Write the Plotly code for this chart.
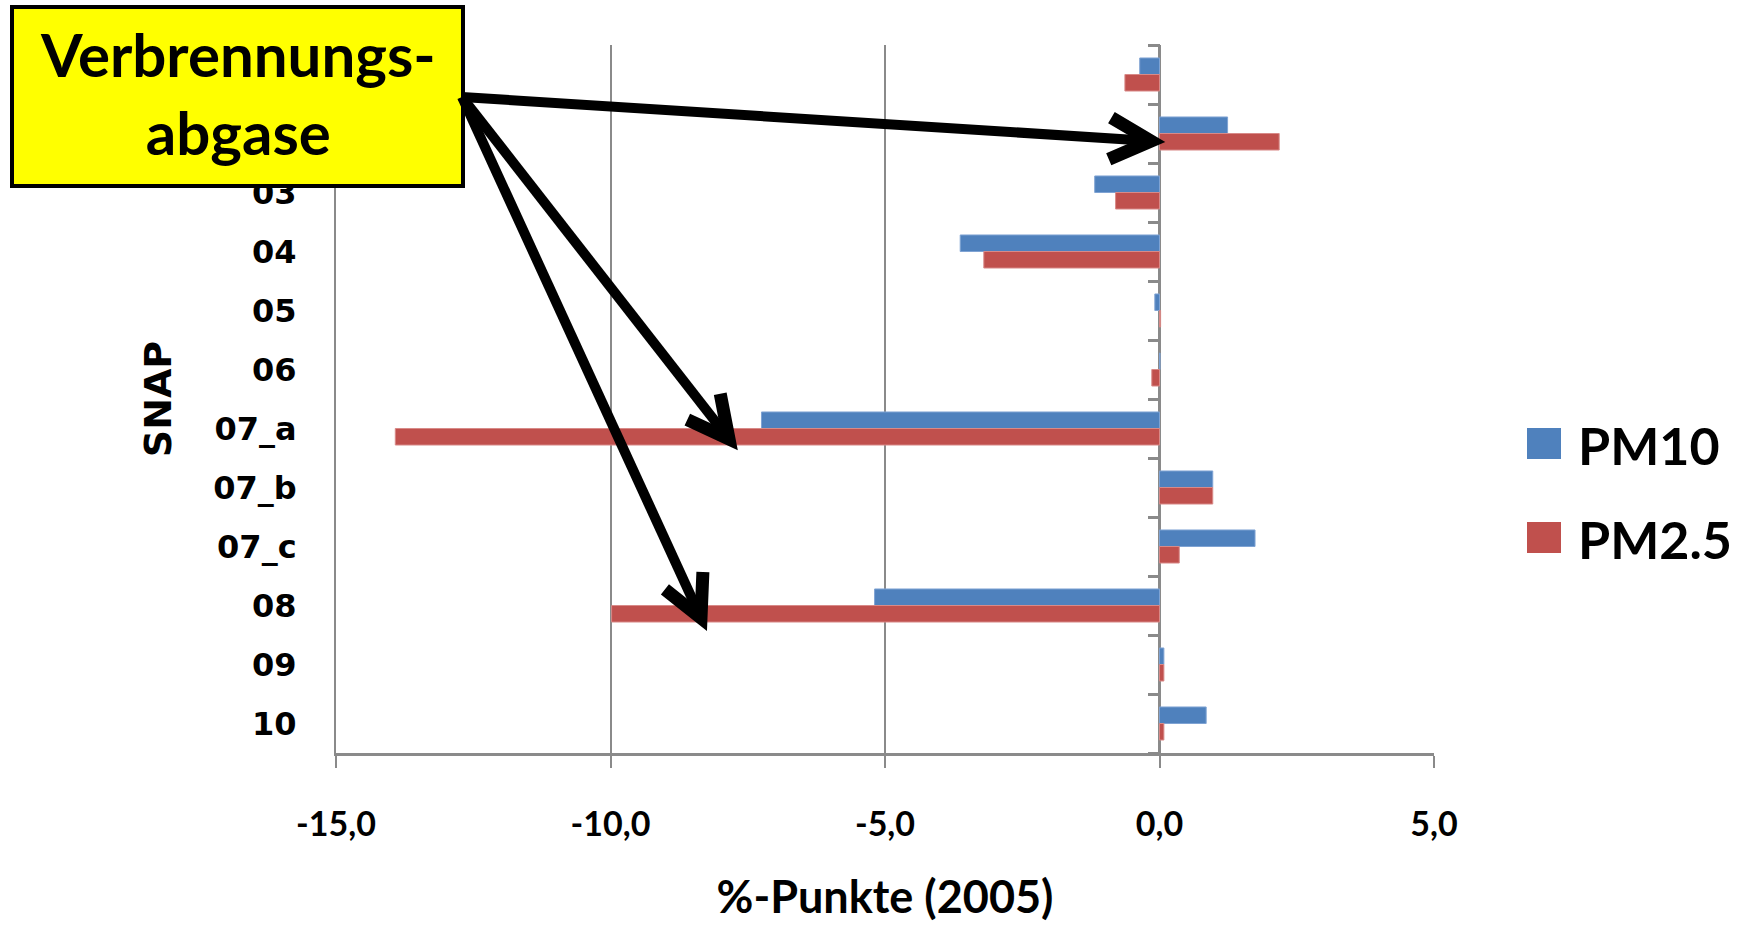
import numpy as np
import plotly.graph_objects as go

# ---------------- data ----------------
categories = ["01", "02", "03", "04", "05", "06", "07_a", "07_b", "07_c", "08", "09", "10"]
pm10 = [-0.36, 1.24, -1.18, -3.63, -0.085, 0.01, -7.25, 0.97, 1.74, -5.19, 0.08, 0.85]
pm25 = [-0.63, 2.18, -0.80, -3.20, 0.02, -0.14, -13.92, 0.97, 0.36, -9.98, 0.08, 0.08]
series_names = ["PM10", "PM2.5"]
x_tickvals = [-15, -10, -5, 0, 5]
x_ticktext = ["-15,0", "-10,0", "-5,0", "0,0", "5,0"]
x_title = "%-Punkte (2005)"
y_title = "SNAP"
box_text = "Verbrennungs-<br>abgase"

# ---------------- styling ----------------
W, H = 1748, 936
L, R, T, B = 336, 1434, 45, 753  # plot area in pixels
BLUE = "#4F81BD"
RED = "#C0504D"
GRID = "#8a8a8a"


def px(xp):
    return (xp - L) / (R - L)


def py(yp):
    return (B - yp) / (B - T)


fig = go.Figure()
fig.add_trace(go.Bar(y=categories, x=pm10, orientation="h", name=series_names[0],
                     marker=dict(color=BLUE, line=dict(color="#7fa3d3", width=1)),
                     showlegend=False))
fig.add_trace(go.Bar(y=categories, x=pm25, orientation="h", name=series_names[1],
                     marker=dict(color=RED, line=dict(color="#d88a88", width=1)),
                     showlegend=False))
# empty helper trace so the secondary (tick-mark) axis at x=0 is drawn
fig.add_trace(go.Scatter(x=[None], y=[None], yaxis="y2", mode="markers",
                         showlegend=False, hoverinfo="skip"))

n = len(categories)
boundaries = [i - 0.5 for i in range(n + 1)]

fig.update_layout(
    width=W, height=H,
    margin=dict(l=L, r=W - R, t=T, b=H - B, autoexpand=False),
    paper_bgcolor="white", plot_bgcolor="white",
    barmode="group", bargap=0.44, bargroupgap=0.0,
    xaxis=dict(
        range=[-15, 5], tickvals=x_tickvals, ticktext=x_ticktext,
        showgrid=True, gridcolor=GRID, gridwidth=2,
        zeroline=True, zerolinecolor=GRID, zerolinewidth=3,
        showline=True, linecolor=GRID, linewidth=3,
        ticks="outside", ticklen=12, tickwidth=2, tickcolor=GRID,
        ticklabelstandoff=27,
        tickfont=dict(family="Lato", size=34, color="black", weight="bold"),
        title=dict(text=x_title, standoff=40,
                   font=dict(family="Lato", size=45, color="black", weight="bold")),
        automargin=False,
    ),
    yaxis=dict(
        type="category", categoryorder="array", categoryarray=categories,
        autorange="reversed",
        showgrid=False, zeroline=False,
        showline=True, linecolor=GRID, linewidth=2,
        ticks="", ticklabelstandoff=31,
        tickfont=dict(family="DejaVu Sans", size=32, color="black", weight="bold"),
        title=dict(text=y_title, standoff=30,
                   font=dict(family="DejaVu Sans", size=38, color="black", weight="bold")),
        automargin=False,
    ),
    yaxis2=dict(
        overlaying="y", anchor="free", position=0.75, side="left",
        range=[n - 0.5, -0.5], tickvals=boundaries,
        ticks="outside", ticklen=12, tickwidth=3, tickcolor=GRID,
        showticklabels=False, showgrid=False, zeroline=False, showline=False,
    ),
)

shapes = []
# yellow label box
shapes.append(dict(type="rect", xref="paper", yref="paper",
                   x0=px(12), x1=px(463), y0=py(7), y1=py(186),
                   fillcolor="#FFFF00", line=dict(color="black", width=4), layer="above"))

# arrows from the box
origin = np.array([462.0, 97.0])
tips = [np.array([1151.0, 141.0]), np.array([729.0, 439.0]), np.array([701.0, 618.0])]
arm_len = 46.0
half_angle = np.deg2rad(27)
for tip in tips:
    shapes.append(dict(type="line", xref="paper", yref="paper",
                       x0=px(origin[0]), y0=py(origin[1]), x1=px(tip[0]), y1=py(tip[1]),
                       line=dict(color="black", width=10), layer="above"))
    back = (origin - tip) / np.linalg.norm(origin - tip)
    pts = []
    for s in (-1, 1):
        c, si = np.cos(s * half_angle), np.sin(s * half_angle)
        d = np.array([back[0] * c - back[1] * si, back[0] * si + back[1] * c])
        pts.append(tip + d * arm_len)
    path = "M {:.5f},{:.5f} L {:.5f},{:.5f} L {:.5f},{:.5f}".format(
        px(pts[0][0]), py(pts[0][1]), px(tip[0]), py(tip[1]), px(pts[1][0]), py(pts[1][1]))
    shapes.append(dict(type="path", xref="paper", yref="paper", path=path,
                       line=dict(color="black", width=13), layer="above"))

# legend swatches
shapes.append(dict(type="rect", xref="paper", yref="paper",
                   x0=px(1527), x1=px(1561), y0=py(428), y1=py(459),
                   fillcolor=BLUE, line=dict(width=0), layer="above"))
shapes.append(dict(type="rect", xref="paper", yref="paper",
                   x0=px(1527), x1=px(1561), y0=py(522), y1=py(553),
                   fillcolor=RED, line=dict(width=0), layer="above"))
fig.update_layout(shapes=shapes)

annotations = [
    dict(text=box_text, xref="paper", yref="paper", x=px(238), y=py(93),
         xanchor="center", yanchor="middle", showarrow=False,
         font=dict(family="Lato", size=60, color="black", weight="bold")),
    dict(text=series_names[0], xref="paper", yref="paper", x=px(1576), y=py(445),
         xanchor="left", yanchor="middle", showarrow=False,
         font=dict(family="Lato", size=52, color="black", weight="bold")),
    dict(text=series_names[1], xref="paper", yref="paper", x=px(1576), y=py(539),
         xanchor="left", yanchor="middle", showarrow=False,
         font=dict(family="Lato", size=52, color="black", weight="bold")),
]
fig.update_layout(annotations=annotations)

fig.write_html("out.html")
